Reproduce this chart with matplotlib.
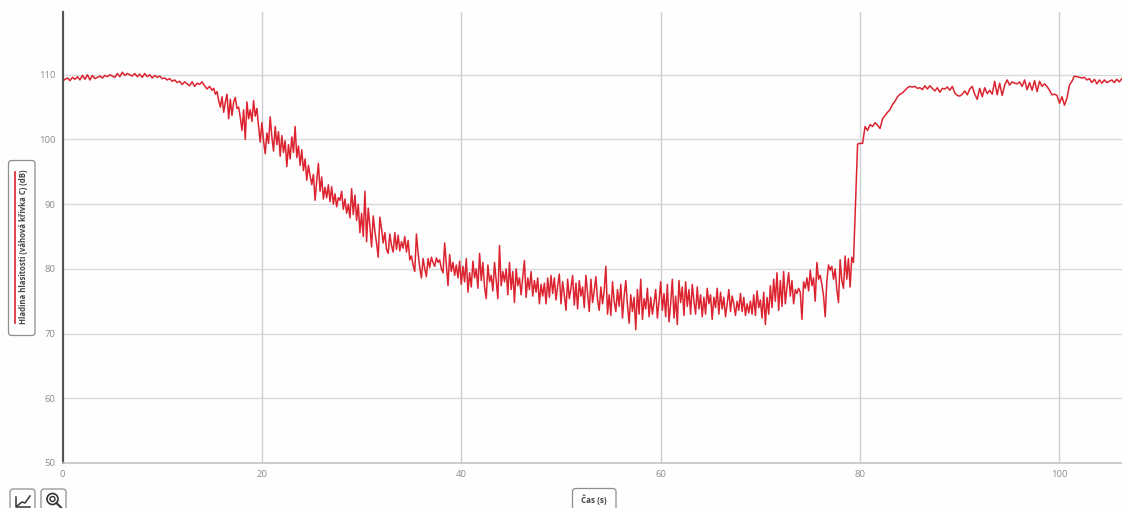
import numpy as np
import matplotlib
matplotlib.use("Agg")
import matplotlib.pyplot as plt
from matplotlib.patches import FancyBboxPatch, Ellipse
from matplotlib.lines import Line2D
from matplotlib.transforms import Affine2D

plt.rcParams['font.family'] = ['Open Sans', 'DejaVu Sans']

level_00_15 = [
 109.0,109.3,109.5,109.1,109.6,109.3,109.7,109.2,109.9,109.3,110.0,109.2,109.9,109.4,109.6,109.8,109.5,109.9,109.7,110.0,
 109.8,109.6,110.2,109.7,110.4,109.9,110.2,110.0,109.8,110.2,109.7,110.1,109.6,110.2,109.7,110.0,109.5,109.9,109.6,109.8,
 109.4,109.5,109.2,109.4,109.0,109.2,108.8,109.0,108.5,108.9,108.6,108.3,108.9,108.2,108.7,108.5,108.9,108.3,107.8,108.2,
]
level_15_30 = [
 107.6,107.9,107.0,107.4,106.0,105.0,106.6,104.2,105.8,107.0,103.2,106.2,103.7,105.8,106.5,104.8,105.0,103.4,101.4,104.6,100.0,105.8,103.2,104.6,102.8,106.0,103.6,104.8,102.0,99.6,
 102.6,99.8,97.8,101.0,99.4,103.5,100.4,98.2,102.0,99.2,101.2,97.4,100.6,98.0,99.8,95.8,99.2,97.0,100.4,98.0,102.0,97.2,99.0,96.0,98.4,95.2,97.0,93.7,96.0,94.4,
 93.0,94.6,90.6,93.6,96.3,92.0,94.2,90.8,92.6,91.0,93.0,90.4,92.7,90.0,91.6,89.6,91.0,90.6,92.0,89.2,90.8,88.6,90.0,87.9,92.4,88.4,91.4,87.5,90.0,85.6,
]
level_30_45 = [
 88.6,85.0,92.0,84.2,89.4,86.6,83.4,88.2,85.8,84.0,81.8,88.0,86.2,84.0,85.6,83.0,82.4,85.4,83.6,82.6,85.6,83.0,85.2,82.8,84.2,83.2,85.0,82.6,84.4,81.4,
 82.0,80.6,79.6,85.4,82.4,80.2,78.6,81.6,80.0,78.8,81.6,80.2,81.8,81.0,80.4,81.7,81.0,81.4,80.0,79.4,84.0,80.8,77.4,82.2,79.6,81.0,79.0,80.6,78.6,81.2,
 77.6,80.4,78.0,81.6,76.4,79.4,77.2,81.2,78.6,80.0,77.0,82.4,78.2,81.0,77.2,75.4,80.6,78.0,79.0,76.6,81.0,78.2,75.4,83.6,77.4,79.6,78.0,80.0,76.0,81.0,
]
level_45_60 = [
 76.8,79.6,74.8,80.0,77.4,78.6,76.0,78.8,81.3,75.6,78.6,76.8,79.6,75.8,78.2,76.4,78.6,74.6,77.6,75.8,77.8,74.6,78.6,75.6,79.0,76.2,78.6,75.2,77.4,79.2,
 74.6,78.0,76.0,73.6,78.4,75.4,77.0,79.0,74.4,77.8,73.8,78.2,75.8,77.2,74.0,79.0,76.2,73.4,78.4,74.8,76.6,78.8,75.2,73.6,77.2,74.6,76.6,80.4,73.0,76.0,
 72.8,78.0,75.0,73.4,76.8,74.2,77.6,72.4,75.8,78.2,74.4,71.6,76.0,73.4,75.6,70.6,76.8,73.0,78.4,72.2,75.4,73.8,77.0,72.6,75.6,73.0,74.8,76.8,72.4,75.0,
]
level_60_75 = [
 78.0,73.6,76.2,72.6,77.6,71.8,74.6,78.4,72.4,75.8,71.4,78.2,74.8,77.2,72.8,78.0,74.2,76.8,73.0,77.6,75.0,73.0,77.2,73.8,76.0,72.6,75.6,73.0,77.0,74.6,
 76.0,72.2,75.6,74.0,77.0,73.0,76.4,73.8,75.6,72.6,74.6,76.8,73.4,75.8,74.6,72.8,75.0,73.6,76.2,73.4,75.6,72.8,74.6,73.2,75.0,73.0,76.0,72.8,76.6,74.0,
 75.2,72.4,76.4,71.4,75.6,73.0,77.4,74.0,78.4,75.0,79.4,73.6,78.2,74.2,79.6,74.6,77.2,79.4,75.8,78.2,74.6,76.8,76.2,77.0,76.4,72.2,78.0,77.0,78.6,76.6,
]
level_75_795 = [
 79.8,77.4,78.6,75.0,81.0,78.4,79.0,77.6,75.8,72.6,78.2,80.6,79.8,80.4,78.4,80.0,76.8,74.8,81.4,78.2,77.0,82.0,78.4,81.6,77.2,81.8,81.0,
]
level_after_jump = [
 99.3,99.4,99.4,102.0,101.4,102.3,102.0,102.6,102.2,101.7,103.2,103.7,104.2,104.6,105.4,105.9,106.6,107.0,107.2,107.6,
 108.0,108.2,108.1,108.2,107.9,108.0,107.7,108.3,107.8,108.3,107.9,107.5,108.0,107.3,107.9,107.8,108.1,107.6,108.2,107.2,
 106.8,106.7,107.0,107.5,106.9,107.8,108.2,107.0,106.2,107.9,106.6,108.0,107.1,107.6,107.0,109.0,106.9,108.7,106.8,108.4,
 109.2,108.4,108.9,108.7,108.6,108.9,108.2,109.2,107.7,108.8,107.6,109.1,107.4,109.0,108.2,108.6,108.2,107.6,
 106.9,107.0,106.8,105.6,106.6,105.3,106.4,108.4,109.0,109.8,109.7,109.6,109.5,109.6,109.2,109.4,108.8,109.3,108.6,109.2,
 108.7,109.2,108.8,109.0,109.2,108.8,109.3,108.9,109.4,108.7,109.0,108.8,
]
quiet_start = level_00_15
noisy_part = level_15_30 + level_30_45 + level_45_60 + level_60_75 + level_75_795
level = quiet_start + noisy_part + level_after_jump
time = np.concatenate([
    np.arange(len(quiet_start)) * 0.25,
    15 + np.arange(len(noisy_part)) / 6,
    79.75 + np.arange(len(level_after_jump)) * 0.25,
])

x_ticks = [0, 20, 40, 60, 80, 100]
y_ticks = [50, 60, 70, 80, 90, 100, 110]
y_label = "Hladina hlasitosti (váhová křivka C) (dB)"
x_label = "Čas (s)"

W, H = 1122, 508
fig = plt.figure(figsize=(W/100, H/100), dpi=100, facecolor='#fefefe')
ax = fig.add_axes([62.5/W, 1-463/H, 1-62.5/W, 451/H])
ax.set_facecolor('#fefefe')
ax.set_xlim(0, 106.27)
ax.set_ylim(50, 119.7)
ax.set_xticks(x_ticks)
ax.set_yticks(y_ticks)
ax.grid(True, axis='y', color='#d8d9da', lw=1.0)
ax.grid(True, axis='x', color='#cdd0d2', lw=1.0)
ax.set_axisbelow(True)
ax.tick_params(length=0, labelsize=6.8, labelcolor='#8c8c8c', pad=5)
ax.tick_params(axis='x', pad=5)
for s in ['top', 'right']:
    ax.spines[s].set_visible(False)
ax.spines['left'].set_color('#555555')
ax.spines['left'].set_linewidth(1.5)
ax.spines['bottom'].set_color('#c4c4c4')
ax.spines['bottom'].set_linewidth(1.2)
ax.plot(time, level, color='#dc2430', lw=1.1, solid_joinstyle='round')

px = Affine2D().scale(1/W, 1/H) + fig.transFigure

def box(x0, y0, x1, y1, r=3):
    fig.add_artist(FancyBboxPatch((x0, H-y1), x1-x0, y1-y0,
        boxstyle=f"round,pad=0,rounding_size={r}", transform=px,
        fc='#fefefe', ec='#8f8f8f', lw=0.9, clip_on=False))

def fline(xs, ys, **kw):
    fig.add_artist(Line2D([x/W for x in xs], [1-y/H for y in ys], transform=fig.transFigure, **kw))

box(8.5, 160.5, 35, 335.5)
fline([15, 15], [172, 323], color='#dc2430', lw=1.2)
fig.text(24/W, 1-247/H, y_label, rotation=90, ha='center', va='center', fontsize=5.6,
         fontweight='bold', color='#444444')

box(572.5, 488.5, 616, 520)
fig.text(594/W, 1-500/H, x_label, ha='center', va='center', fontsize=5.8, fontweight='bold', color='#444444')

box(10, 489, 35, 520)
fline([16, 16, 30], [497, 507, 507], color='#333333', lw=1.1)
fline([17, 22, 25, 30], [506, 502, 503, 496], color='#333333', lw=1.1)
box(41, 489, 66, 520)
fig.add_artist(Ellipse((52.5/W, 1-499/H), 11/W, 11/H, transform=fig.transFigure, fc='none', ec='#333333', lw=1.2))
fig.add_artist(Ellipse((52.5/W, 1-499/H), 5/W, 5/H, transform=fig.transFigure, fc='none', ec='#333333', lw=1.0))
fline([56.5, 61], [503, 507.5], color='#333333', lw=1.5)

fig.savefig('out.png', dpi=100, facecolor=fig.get_facecolor())
